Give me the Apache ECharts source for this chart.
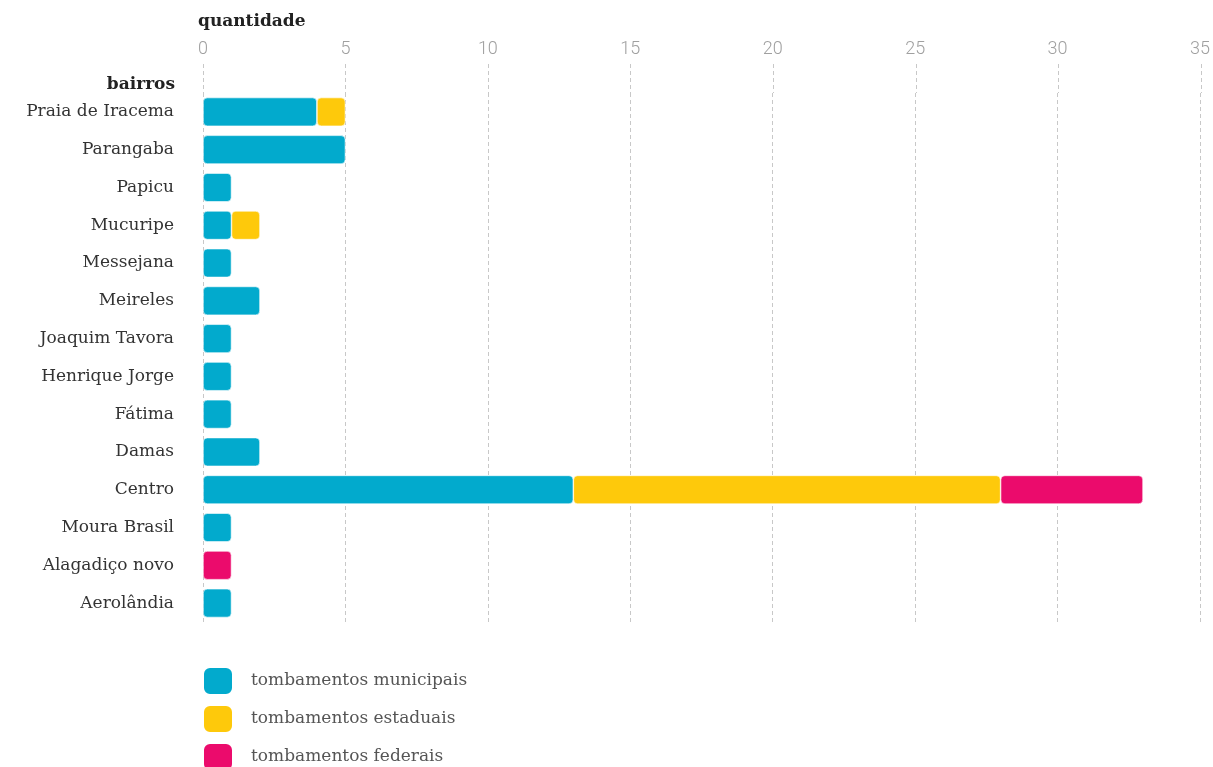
<!DOCTYPE html>
<html><head><meta charset="utf-8">
<script src="https://cdn.jsdelivr.net/npm/echarts@6/dist/echarts.min.js"></script>
<style>html,body{margin:0;padding:0;background:#fff}#c{width:1213px;height:767px}</style>
</head><body><div id="c"></div>
<script>
const categories = ["Praia de Iracema","Parangaba","Papicu","Mucuripe","Messejana","Meireles","Joaquim Tavora","Henrique Jorge","Fátima","Damas","Centro","Moura Brasil","Alagadiço novo","Aerolândia"];
const municipais = [4,5,1,1,1,2,1,1,1,2,13,1,0,1];
const estaduais  = [1,0,0,1,0,0,0,0,0,0,15,0,0,0];
const federais   = [0,0,0,0,0,0,0,0,0,0,5,0,1,0];
const seriesNames = ["tombamentos municipais","tombamentos estaduais","tombamentos federais"];
const colors = ["#02aacd","#fec90b","#eb0b6c"];
const xTicks = [0,5,10,15,20,25,30,35];

const serif = "'DejaVu Serif', serif";
const chart = echarts.init(document.getElementById('c'));
const mk = (name, data, color) => ({
  name, type:'bar', stack:'t', data: data.map(v => v === 0 ? null : v),
  barCategoryGap:'24%',
  itemStyle:{color, borderRadius:4, borderColor:'#fff', borderWidth:0.6},
  emphasis:{disabled:true}
});
const split = {show:true, lineStyle:{color:'#c8c8c8', type:[4,3], width:1}};
chart.setOption({
  animation:false,
  color: colors,
  grid:[
    {left:203, right:12, top:93, bottom:145, containLabel:false},
    {left:203, right:12, top:64, height:29, containLabel:false}
  ],
  xAxis:[
    {type:'value', position:'top', min:xTicks[0], max:xTicks[xTicks.length-1], interval:5,
      axisLine:{show:false}, axisTick:{show:false},
      axisLabel:{color:'#a0a0a0', fontFamily:'Roboto', fontWeight:300, fontSize:18, margin:35},
      splitLine:split},
    {gridIndex:1, type:'value', position:'top', min:xTicks[0], max:xTicks[xTicks.length-1], interval:5,
      axisLine:{show:false}, axisTick:{show:false}, axisLabel:{show:false}, splitLine:split}
  ],
  yAxis:[
    {type:'category', data:categories, inverse:true,
      axisLine:{show:false}, axisTick:{show:false},
      axisLabel:{color:'#333', fontFamily:serif, fontSize:17, margin:29}},
    {gridIndex:1, type:'value', show:false, min:0, max:1, splitLine:{show:false}}
  ],
  legend:{orient:'vertical', left:202, top:666, height:110, padding:0, itemWidth:30, itemHeight:28, itemGap:8,
    icon:'roundRect', data:seriesNames,
    textStyle:{color:'#555', fontFamily:serif, fontSize:17, padding:[0,0,0,13]}, selectedMode:false},
  graphic:[
    {type:'text', left:198, top:13, style:{text:'quantidade', font:"bold 17px 'DejaVu Serif'", fill:'#222'}},
    {type:'text', right:1213-175, top:76, style:{text:'bairros', font:"bold 17px 'DejaVu Serif'", fill:'#222'}}
  ],
  series:[mk(seriesNames[0], municipais, colors[0]), mk(seriesNames[1], estaduais, colors[1]), mk(seriesNames[2], federais, colors[2])]
});
</script></body></html>
